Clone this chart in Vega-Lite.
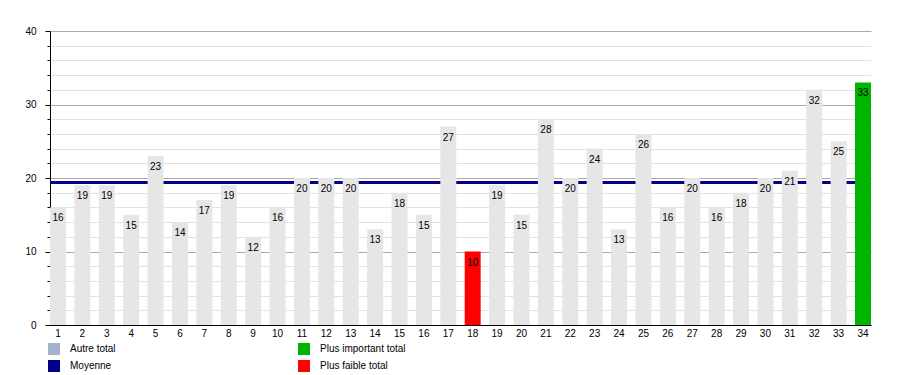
{
  "$schema": "https://vega.github.io/schema/vega-lite/v6.json",
  "autosize": {"type": "none"},
  "width": 821,
  "height": 294,
  "padding": {"left": 50, "top": 31, "right": 29, "bottom": 50},
  "background": "white",
  "config": {
    "font": "Liberation Sans",
    "view": {"stroke": null},
    "axis": {"labelFont": "Liberation Sans", "labelFontSize": 10, "labelColor": "#000", "domainColor": "#000", "tickColor": "#000", "title": null}
  },
  "data": {
    "values": [
      {"x": 1, "v": 16, "type": "Autre total"},
      {"x": 2, "v": 19, "type": "Autre total"},
      {"x": 3, "v": 19, "type": "Autre total"},
      {"x": 4, "v": 15, "type": "Autre total"},
      {"x": 5, "v": 23, "type": "Autre total"},
      {"x": 6, "v": 14, "type": "Autre total"},
      {"x": 7, "v": 17, "type": "Autre total"},
      {"x": 8, "v": 19, "type": "Autre total"},
      {"x": 9, "v": 12, "type": "Autre total"},
      {"x": 10, "v": 16, "type": "Autre total"},
      {"x": 11, "v": 20, "type": "Autre total"},
      {"x": 12, "v": 20, "type": "Autre total"},
      {"x": 13, "v": 20, "type": "Autre total"},
      {"x": 14, "v": 13, "type": "Autre total"},
      {"x": 15, "v": 18, "type": "Autre total"},
      {"x": 16, "v": 15, "type": "Autre total"},
      {"x": 17, "v": 27, "type": "Autre total"},
      {"x": 18, "v": 10, "type": "Plus faible total"},
      {"x": 19, "v": 19, "type": "Autre total"},
      {"x": 20, "v": 15, "type": "Autre total"},
      {"x": 21, "v": 28, "type": "Autre total"},
      {"x": 22, "v": 20, "type": "Autre total"},
      {"x": 23, "v": 24, "type": "Autre total"},
      {"x": 24, "v": 13, "type": "Autre total"},
      {"x": 25, "v": 26, "type": "Autre total"},
      {"x": 26, "v": 16, "type": "Autre total"},
      {"x": 27, "v": 20, "type": "Autre total"},
      {"x": 28, "v": 16, "type": "Autre total"},
      {"x": 29, "v": 18, "type": "Autre total"},
      {"x": 30, "v": 20, "type": "Autre total"},
      {"x": 31, "v": 21, "type": "Autre total"},
      {"x": 32, "v": 32, "type": "Autre total"},
      {"x": 33, "v": 25, "type": "Autre total"},
      {"x": 34, "v": 33, "type": "Plus important total"}
    ]
  },
  "encoding": {
    "x": {"field": "x", "type": "ordinal", "sort": null,
          "scale": {"paddingInner": 0.345, "paddingOuter": 0},
          "axis": {"labelAngle": 0, "ticks": false, "labelPadding": 3, "grid": false, "domainColor": "#000"}},
    "y": {"field": "v", "type": "quantitative",
          "scale": {"domain": [0, 40], "nice": false},
          "axis": {
            "values": [0,2,4,6,8,10,12,14,16,18,20,22,24,26,28,30,32,34,36,38,40],
            "labelExpr": "datum.value % 10 === 0 ? datum.label : ''",
            "grid": true,
            "gridColor": {"condition": {"test": "datum.value % 10 === 0", "value": "#aaaaaa"}, "value": "#e2e2e2"},
            "tickSize": {"condition": {"test": "datum.value % 10 === 0", "value": 5}, "value": 3},
            "labelPadding": 9,
            "domainColor": "#000"
          }}
  },
  "layer": [
    {
      "mark": {"type": "rule", "strokeWidth": 3},
      "encoding": {
        "x": null,
        "y": {"aggregate": "mean", "field": "v", "type": "quantitative"},
        "color": {"datum": "Moyenne"}
      }
    },
    {
      "mark": {"type": "bar"},
      "encoding": {
        "color": {
          "condition": {"test": "datum.type === 'Autre total'", "value": "#e6e6e6"},
          "field": "type", "type": "nominal",
          "scale": {
            "domain": ["Autre total", "Moyenne", "Plus important total", "Plus faible total"],
            "range": ["#a3b3cc", "#00008b", "#00b400", "#ff0000"]
          },
          "legend": {
            "title": null,
            "orient": "none",
            "legendX": -2,
            "legendY": 312,
            "columns": 2,
            "columnPadding": 182,
            "rowPadding": 5,
            "symbolType": "square",
            "symbolSize": 144,
            "symbolStrokeWidth": 0,
            "symbolOpacity": 1,
            "labelOffset": 10,
            "labelFontSize": 10,
            "labelFont": "Liberation Sans",
            "labelColor": "#000"
          }
        }
      }
    },
    {
      "mark": {"type": "text", "baseline": "middle", "dy": 11, "fontSize": 10, "color": "#000"},
      "encoding": {
        "text": {"field": "v", "type": "quantitative"}
      }
    }
  ]
}
